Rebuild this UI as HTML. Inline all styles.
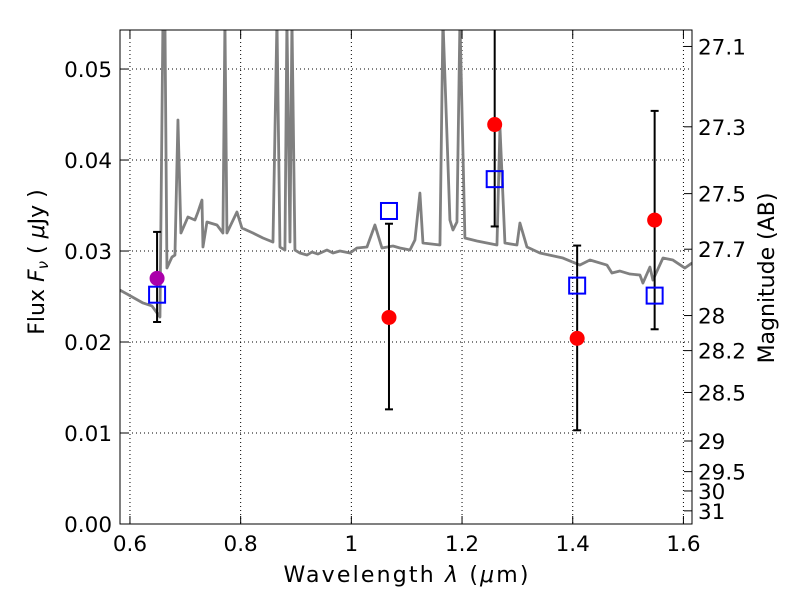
<!DOCTYPE html>
<html><head><meta charset="utf-8">
<style>
body{margin:0;background:#fff;}
svg{font-family:"DejaVu Sans","Liberation Sans",sans-serif;}
</style></head>
<body>
<svg id="chart" width="800" height="600" viewBox="0 0 800 600">
<rect width="800" height="600" fill="#fff"/>
<defs><clipPath id="pc"><rect x="120" y="30" width="572" height="494"/></clipPath></defs>
<g id="grid"></g>
<g id="spec" clip-path="url(#pc)"></g>
<g id="marks" clip-path="url(#pc)"></g>
<rect x="120" y="30" width="572" height="494" fill="none" stroke="#000" stroke-width="1"/>
<g id="axes"></g>
<text x="406" y="582" font-size="22" text-anchor="middle" textLength="245" lengthAdjust="spacing">Wavelength  <tspan font-style="italic">λ</tspan> (<tspan font-style="italic">μ</tspan>m)</text>
<text transform="translate(44,262) rotate(-90)" font-size="22" text-anchor="middle">Flux  <tspan font-style="italic">F</tspan><tspan font-style="italic" font-size="15" dy="4">ν</tspan><tspan dy="-4">  (  </tspan><tspan font-style="italic">μ</tspan>Jy )</text>
<text transform="translate(774,278) rotate(-90)" font-size="22" text-anchor="middle">Magnitude (AB)</text>
</svg>
<script>
const xTicks=[0.6,0.8,1.0,1.2,1.4,1.6];
const xTickLabels=["0.6","0.8","1","1.2","1.4","1.6"];
const yTicks=[0,0.01,0.02,0.03,0.04,0.05];
const yTickLabels=["0.00","0.01","0.02","0.03","0.04","0.05"];
const magTicks=[27.1,27.3,27.5,27.7,28,28.2,28.5,29,29.5,30,31];
const magLabels=["27.1","27.3","27.5","27.7","28","28.2","28.5","29","29.5","30","31"];
const specPx=[[120,290],[143,303],[152,306],[160,317],[163,20],[165,20],[167,268],[172,257],[175,255],[178,120],[181,233],[188,217],[195,220],[198,212],[202,200],[203,247],[207,222],[217,225],[223,233],[225,20],[227,233],[237,212],[242,228],[253,233],[263,238],[273,242],[277,20],[280,247],[285,250],[287,20],[290,242],[292,20],[295,250],[300,253],[307,255],[312,252],[318,254],[327,250],[333,253],[340,251],[350,253],[357,248],[367,247],[375,225],[382,248],[393,246],[400,248],[410,250],[415,240],[420,193],[423,243],[440,245],[443,20],[450,220],[453,230],[457,222],[460,20],[465,238],[477,241],[497,245],[500,127],[505,243],[517,245],[520,223],[527,247],[540,253],[563,258],[580,265],[590,260],[607,265],[612,273],[620,271],[630,274],[640,275],[643,283],[650,267],[653,280],[663,258],[673,260],[685,268],[692,263]];
const specWave=specPx.map(p=>+(0.6+(p[0]-130)/553.5).toFixed(4));
const specFlux=specPx.map(p=>+((524-p[1])/9100).toFixed(5));
const obsWave=[0.649,1.068,1.259,1.408,1.548];
const obsFlux=[0.0270,0.0227,0.0439,0.0204,0.0334];
const obsLo=[0.0222,0.0126,0.0327,0.0103,0.0214];
const obsHi=[0.0321,0.0330,0.0600,0.0306,0.0454];
const obsColor=["#aa00aa","red","red","red","red"];
const modelWave=[0.649,1.068,1.259,1.408,1.548];
const modelFlux=[0.0252,0.0344,0.0379,0.0262,0.0251];

const X0=0.582,X1=1.6155,PX0=120,PX1=692;
const Y0=0,Y1=0.05429,PY0=524,PY1=30;
const sx=v=>PX0+(v-X0)/(X1-X0)*(PX1-PX0);
const sy=v=>PY0-(v-Y0)/(Y1-Y0)*(PY0-PY1);
const NS="http://www.w3.org/2000/svg";
function mk(tag,attrs,parent){const e=document.createElementNS(NS,tag);for(const k in attrs)e.setAttribute(k,attrs[k]);parent.appendChild(e);return e;}
const grid=document.getElementById('grid'),axes=document.getElementById('axes'),spec=document.getElementById('spec'),marks=document.getElementById('marks');
xTicks.forEach((t,i)=>{const x=sx(t);
 const g=mk('line',{x1:x,x2:x,y1:30,y2:524,stroke:'#000','stroke-dasharray':'1,3','stroke-width':1},grid);
 
 
 mk('line',{x1:x,x2:x,y1:524,y2:516,stroke:'#000'},axes);
 mk('line',{x1:x,x2:x,y1:30,y2:38,stroke:'#000'},axes);
 const tx=mk('text',{x:x,y:551,'font-size':21.5,'text-anchor':'middle'},axes);tx.textContent=xTickLabels[i];
 
 
});
yTicks.forEach((t,i)=>{const y=sy(t);
 const g=mk('line',{x1:120,x2:692,y1:y,y2:y,stroke:'#000','stroke-dasharray':'1,3','stroke-width':1},grid);
 
 
 mk('line',{x1:120,x2:128,y1:y,y2:y,stroke:'#000'},axes);
 const tx=mk('text',{x:112,y:y+8,'font-size':21.5,'text-anchor':'end'},axes);tx.textContent=yTickLabels[i];
 
 
});
magTicks.forEach((m,i)=>{const f=Math.pow(10,(23.9-m)/2.5);const y=sy(f);
 mk('line',{x1:684,x2:692,y1:y,y2:y,stroke:'#000'},axes);
 const tx=mk('text',{x:698,y:y+8,'font-size':21.5},axes);tx.textContent=magLabels[i];
 
 
});
const p=mk('polyline',{points:specWave.map((w,i)=>sx(w)+','+sy(specFlux[i])).join(' '),fill:'none',stroke:'#808080','stroke-width':2.8,'stroke-linejoin':'round'},spec);


obsWave.forEach((w,i)=>{const x=sx(w);
 const e=mk('line',{x1:x,x2:x,y1:sy(obsLo[i]),y2:sy(obsHi[i]),stroke:'#000','stroke-width':2},marks);
 
 
 [obsLo[i],obsHi[i]].forEach(v=>mk('line',{x1:x-4,x2:x+4,y1:sy(v),y2:sy(v),stroke:'#000','stroke-width':2},marks));
});
modelWave.forEach((w,i)=>{
 const r=mk('rect',{x:sx(w)-8,y:sy(modelFlux[i])-8,width:16,height:16,fill:'none',stroke:'#0000ff','stroke-width':2},marks);
 
 
});
obsWave.forEach((w,i)=>{
 const c=mk('circle',{cx:sx(w),cy:sy(obsFlux[i]),r:7.5,fill:obsColor[i]},marks);
 
 
});
</script>
</body></html>
